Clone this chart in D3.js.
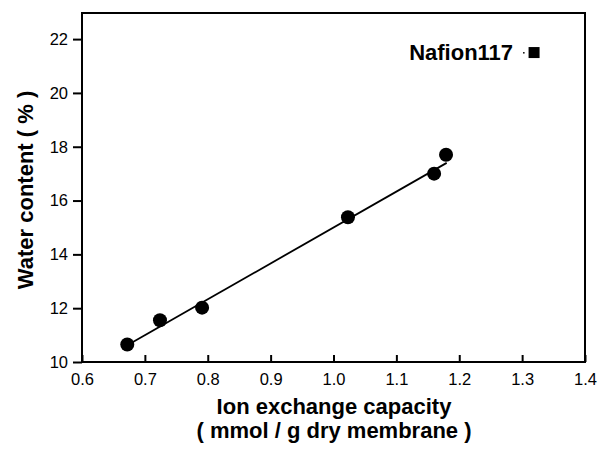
<!DOCTYPE html>
<html>
<head>
<meta charset="utf-8">
<script src="https://cdn.jsdelivr.net/npm/d3@7"></script>
<style>
  body { margin: 0; background: #fff; }
  svg { font-family: "Liberation Sans", Arial, sans-serif; }
</style>
</head>
<body>
<svg id="chart" width="598" height="454"></svg>
<script>
// measured points (ion exchange capacity vs water content)
var iecValues = [0.672, 0.724, 0.791, 1.023, 1.160, 1.179];
var waterValues = [10.65, 11.55, 12.02, 15.38, 17.0, 17.7];

// linear fit line end points
var fitX = [0.672, 1.18];
var fitY = [10.62, 17.4];

// Nafion117 reference
var nafionX = [1.319];
var nafionY = [21.5];

var xTicks = [0.6, 0.7, 0.8, 0.9, 1.0, 1.1, 1.2, 1.3, 1.4];
var yTicks = [10, 12, 14, 16, 18, 20, 22];

var svg = d3.select("#chart");
// plot box (note: "top" is taken by window, so prefixed)
var plotLeft = 82, plotTop = 13, plotRight = 585, plotBottom = 362;

var x = d3.scaleLinear().domain([0.6, 1.4]).range([plotLeft, plotRight]);
var y = d3.scaleLinear().domain([10, 22.97]).range([plotBottom, plotTop]);

//frame
svg.append("rect")
  .attr("x", plotLeft).attr("y", plotTop)
  .attr("width", plotRight - plotLeft).attr("height", plotBottom - plotTop)
  .attr("fill", "none").attr("stroke", "#000").attr("stroke-width", 2);

// x axis, ticks point inward
var xAxis = svg.append("g")
  .attr("transform", "translate(0," + plotBottom + ")")
  .call(d3.axisTop(x).tickValues(xTicks).tickSize(7).tickFormat(d3.format(".1f")));
xAxis.select(".domain").remove();
xAxis.selectAll(".tick line").attr("stroke-width", 2);
xAxis.selectAll(".tick text")
  .attr("y", 23).attr("dy", 0)
  .attr("font-size", 16.5).attr("fill", "#000");

// y axis, ticks point outward
var yAxis = svg.append("g")
  .attr("transform", "translate(" + plotLeft + ",0)")
  .call(d3.axisLeft(y).tickValues(yTicks).tickSize(9).tickPadding(5));
yAxis.select(".domain").remove();
yAxis.selectAll(".tick line").attr("stroke-width", 2);
yAxis.selectAll(".tick text")
  .attr("font-size", 16.5).attr("fill", "#000");

// fit line
var fitData = fitX.map(function (d, i) { return [d, fitY[i]]; });
svg.append("path")
  .datum(fitData)
  .attr("d", d3.line().x(function (d) { return x(d[0]); }).y(function (d) { return y(d[1]); }))
  .attr("stroke", "#000").attr("stroke-width", 1.8).attr("fill", "none");

// dots
svg.selectAll("circle.pt")
  .data(iecValues)
  .enter().append("circle")
  .attr("class", "pt")
  .attr("cx", function (d) { return x(d); })
  .attr("cy", function (d, i) { return y(waterValues[i]); })
  .attr("r", 7)
  .attr("fill", "#000");

// Nafion117 marker + label
svg.selectAll("rect.naf")
  .data(nafionX)
  .enter().append("rect")
  .attr("class", "naf")
  .attr("x", function (d) { return x(d) - 5.5; })
  .attr("y", function (d, i) { return y(nafionY[i]) - 5.5; })
  .attr("width", 11).attr("height", 11)
  .attr("fill", "#000");
svg.append("rect")
  .attr("x", x(nafionX[0]) - 11).attr("y", y(nafionY[0]) - 0.5)
  .attr("width", 1.5).attr("height", 1.5).attr("fill", "#000");
svg.append("text")
  .attr("x", x(nafionX[0]) - 21).attr("y", y(nafionY[0]) + 7)
  .attr("text-anchor", "end")
  .attr("font-size", 22).attr("font-weight", "bold")
  .text("Nafion117");

// axis titles
svg.append("text")
  .attr("x", 334).attr("y", 414)
  .attr("text-anchor", "middle")
  .attr("font-size", 22).attr("font-weight", "bold")
  .text("Ion exchange capacity");
svg.append("text")
  .attr("x", 334).attr("y", 438)
  .attr("text-anchor", "middle")
  .attr("font-size", 22).attr("font-weight", "bold")
  .text("( mmol / g dry membrane )");
svg.append("text")
  .attr("transform", "translate(33," + 190 + ") rotate(-90)")
  .attr("text-anchor", "middle")
  .attr("font-size", 22).attr("font-weight", "bold")
  .text("Water content ( % )");
</script>
</body>
</html>
